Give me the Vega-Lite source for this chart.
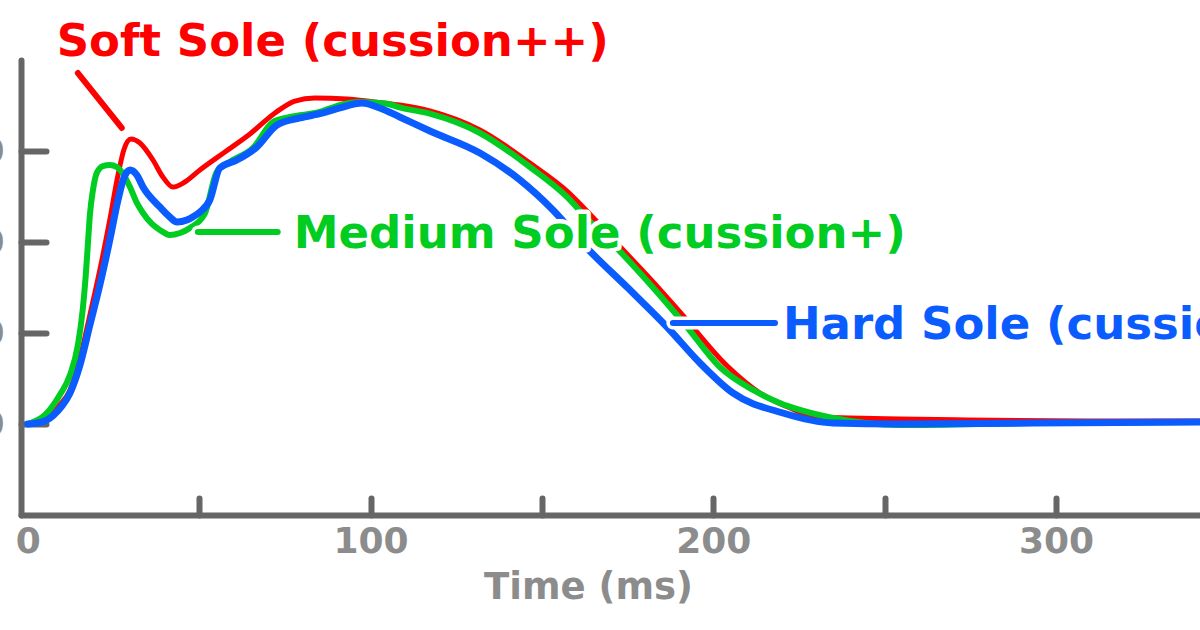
{
  "$schema": "https://vega.github.io/schema/vega-lite/v6.json",
  "width": 1179,
  "height": 455,
  "autosize": {"type": "none"},
  "padding": {"left": 21, "top": 60, "right": 0, "bottom": 115},
  "background": "white",
  "config": {"view": {"stroke": null}},
  "datasets": {
    "soft": [
      {"t": 0, "f": 0}, {"t": 5, "f": 44}, {"t": 9.3, "f": 209}, {"t": 12.3, "f": 374}, {"t": 15.2, "f": 725},
      {"t": 18.1, "f": 1198}, {"t": 21, "f": 1692}, {"t": 23.9, "f": 2242}, {"t": 26.3, "f": 2736}, {"t": 28, "f": 3011},
      {"t": 30.1, "f": 3132}, {"t": 32.7, "f": 3088}, {"t": 36.5, "f": 2901}, {"t": 39.4, "f": 2714}, {"t": 42.3, "f": 2604},
      {"t": 45.8, "f": 2659}, {"t": 50.2, "f": 2791}, {"t": 57.5, "f": 2989}, {"t": 64.8, "f": 3187}, {"t": 72.1, "f": 3418},
      {"t": 77.9, "f": 3549}, {"t": 83.7, "f": 3582}, {"t": 93.1, "f": 3571}, {"t": 98.9, "f": 3549}, {"t": 108.5, "f": 3505},
      {"t": 117.3, "f": 3440}, {"t": 131.9, "f": 3231}, {"t": 146.5, "f": 2868}, {"t": 157.3, "f": 2560}, {"t": 164.9, "f": 2270},
      {"t": 171.3, "f": 2010}, {"t": 181.5, "f": 1600}, {"t": 190.3, "f": 1230}, {"t": 204, "f": 640}, {"t": 213.6, "f": 341},
      {"t": 222.4, "f": 176}, {"t": 230.2, "f": 77}, {"t": 239.9, "f": 66}, {"t": 254.5, "f": 55}, {"t": 274, "f": 44},
      {"t": 312.8, "f": 33}, {"t": 342, "f": 33}
    ],
    "medium": [
      {"t": 0, "f": 0}, {"t": 5, "f": 99}, {"t": 9.3, "f": 319}, {"t": 12.3, "f": 538}, {"t": 14.6, "f": 868},
      {"t": 16, "f": 1253}, {"t": 16.9, "f": 1637}, {"t": 17.5, "f": 1967}, {"t": 18.1, "f": 2297}, {"t": 19, "f": 2571},
      {"t": 20.1, "f": 2758}, {"t": 21.9, "f": 2835}, {"t": 23.9, "f": 2846}, {"t": 26, "f": 2824}, {"t": 27.4, "f": 2769},
      {"t": 29.8, "f": 2604}, {"t": 31.8, "f": 2429}, {"t": 33.6, "f": 2319}, {"t": 36.2, "f": 2198}, {"t": 38.5, "f": 2132},
      {"t": 41.4, "f": 2077}, {"t": 44.4, "f": 2099}, {"t": 47.3, "f": 2154}, {"t": 51.6, "f": 2308}, {"t": 55.1, "f": 2769},
      {"t": 58.9, "f": 2879}, {"t": 65.7, "f": 3033}, {"t": 71.5, "f": 3319}, {"t": 76.5, "f": 3374}, {"t": 85.2, "f": 3429},
      {"t": 91, "f": 3505}, {"t": 96.9, "f": 3538}, {"t": 104.8, "f": 3520}, {"t": 108.5, "f": 3480}, {"t": 117.3, "f": 3410},
      {"t": 131.9, "f": 3198}, {"t": 146.5, "f": 2824}, {"t": 157.3, "f": 2495}, {"t": 163.1, "f": 2259}, {"t": 171.9, "f": 1930},
      {"t": 182.4, "f": 1500}, {"t": 192.3, "f": 1066}, {"t": 201.9, "f": 626}, {"t": 211.6, "f": 374}, {"t": 219.4, "f": 231},
      {"t": 225.3, "f": 154}, {"t": 234.9, "f": 66}, {"t": 254.5, "f": -11}, {"t": 293.3, "f": 11}, {"t": 342, "f": 22}
    ],
    "hard": [
      {"t": 0, "f": 0}, {"t": 4, "f": 20}, {"t": 7.3, "f": 90}, {"t": 10, "f": 200}, {"t": 12.3, "f": 341}, {"t": 15.2, "f": 648},
      {"t": 18.1, "f": 1088}, {"t": 21, "f": 1527}, {"t": 23.9, "f": 2022}, {"t": 26.3, "f": 2462}, {"t": 28, "f": 2703},
      {"t": 29.8, "f": 2791}, {"t": 31.8, "f": 2736}, {"t": 33.6, "f": 2604}, {"t": 38.5, "f": 2385}, {"t": 41.4, "f": 2275},
      {"t": 43.5, "f": 2220}, {"t": 46.4, "f": 2242}, {"t": 48.1, "f": 2275}, {"t": 50.2, "f": 2330}, {"t": 53.1, "f": 2462},
      {"t": 56, "f": 2813}, {"t": 61, "f": 2901}, {"t": 66.8, "f": 3044}, {"t": 72.7, "f": 3286}, {"t": 79.4, "f": 3363},
      {"t": 86.1, "f": 3418}, {"t": 91, "f": 3473}, {"t": 97.5, "f": 3527}, {"t": 102.7, "f": 3473}, {"t": 108.5, "f": 3374},
      {"t": 117.3, "f": 3220}, {"t": 131.9, "f": 2978}, {"t": 143.6, "f": 2681}, {"t": 153.2, "f": 2352}, {"t": 163.1, "f": 1934},
      {"t": 174.8, "f": 1505}, {"t": 186.5, "f": 1066}, {"t": 196.1, "f": 670}, {"t": 205.7, "f": 341}, {"t": 220.3, "f": 121},
      {"t": 234.9, "f": 11}, {"t": 254.5, "f": 0}, {"t": 293.3, "f": 11}, {"t": 342, "f": 22}
    ],
    "notes": [
      {"series": "Soft", "label": "Soft Sole (cussion++)", "tx": 8.4, "ty": 4040, "lx": 14.6, "ly": 3857, "lx2": 27.4, "ly2": 3253},
      {"series": "Medium", "label": "Medium Sole (cussion+)", "tx": 77.6, "ty": 1934, "lx": 49.6, "ly": 2110, "lx2": 72.9, "ly2": 2110},
      {"series": "Hard", "label": "Hard Sole (cussion)", "tx": 220.3, "ty": 934, "lx": 188.2, "ly": 1110, "lx2": 218.0, "ly2": 1110}
    ]
  },
  "layer": [
    {
      "data": {"name": "soft"},
      "mark": {"type": "line", "interpolate": "monotone", "color": "#ff0000", "strokeWidth": 5, "strokeCap": "round"},
      "encoding": {
        "x": {
          "field": "t", "type": "quantitative",
          "scale": {"domain": [-2, 342], "nice": false, "zero": false},
          "axis": {
            "values": [0, 50, 100, 150, 200, 250, 300],
            "format": "d",
            "labelExpr": "datum.value % 100 == 0 ? datum.label : ''",
            "grid": false,
            "domainColor": "#666666", "domainWidth": 6, "domainCap": "round",
            "tickColor": "#666666", "tickWidth": 6, "tickCap": "round", "tickSize": -17,
            "tickOpacity": {"condition": {"test": "datum.value == 0", "value": 0}, "value": 1},
            "labelFont": "DejaVu Sans", "labelFontWeight": "bold", "labelFontSize": 36, "labelColor": "#8c8c8c",
            "labelPadding": 26, "labelFlush": false, "labelOverlap": false,
            "title": "Time (ms)", "titleFont": "DejaVu Sans", "titleFontWeight": "bold", "titleFontSize": 37,
            "titleColor": "#8c8c8c", "titleX": 567, "titleY": 83, "titleBaseline": "alphabetic", "titleAnchor": "middle"
          }
        },
        "y": {
          "field": "f", "type": "quantitative",
          "scale": {"domain": [-1000, 4000], "nice": false, "zero": false},
          "axis": {
            "values": [0, 1000, 2000, 3000],
            "format": "d",
            "grid": false,
            "domainColor": "#666666", "domainWidth": 6, "domainCap": "round",
            "tickColor": "#666666", "tickWidth": 6, "tickCap": "round", "tickSize": -25,
            "labelFont": "DejaVu Sans", "labelFontWeight": "bold", "labelFontSize": 36, "labelColor": "#8c8c8c",
            "labelPadding": 42, "labelFlush": false, "labelOverlap": false,
            "title": null
          }
        }
      }
    },
    {
      "data": {"name": "medium"},
      "mark": {"type": "line", "interpolate": "monotone", "color": "#00cc22", "strokeWidth": 6, "strokeCap": "round"},
      "encoding": {"x": {"field": "t", "type": "quantitative"}, "y": {"field": "f", "type": "quantitative"}}
    },
    {
      "data": {"name": "hard"},
      "mark": {"type": "line", "interpolate": "monotone", "color": "#0a5cff", "strokeWidth": 7, "strokeCap": "round"},
      "encoding": {"x": {"field": "t", "type": "quantitative"}, "y": {"field": "f", "type": "quantitative"}}
    },
    {
      "data": {"name": "notes"},
      "mark": {"type": "rule", "color": "white", "strokeWidth": 13, "strokeCap": "round"},
      "encoding": {
        "x": {"field": "lx", "type": "quantitative"}, "y": {"field": "ly", "type": "quantitative"},
        "x2": {"field": "lx2"}, "y2": {"field": "ly2"}
      }
    },
    {
      "data": {"name": "notes"},
      "mark": {"type": "rule", "strokeWidth": 6, "strokeCap": "round"},
      "encoding": {
        "x": {"field": "lx", "type": "quantitative"}, "y": {"field": "ly", "type": "quantitative"},
        "x2": {"field": "lx2"}, "y2": {"field": "ly2"},
        "color": {"field": "series", "type": "nominal", "scale": {"domain": ["Soft", "Medium", "Hard"], "range": ["#ff0000", "#00cc22", "#0a5cff"]}, "legend": null}
      }
    },
    {
      "data": {"name": "notes"},
      "mark": {"type": "text", "align": "left", "baseline": "alphabetic", "font": "DejaVu Sans", "fontWeight": "bold", "fontSize": 45, "fill": "white", "stroke": "white", "strokeWidth": 9, "strokeJoin": "round"},
      "encoding": {
        "x": {"field": "tx", "type": "quantitative"}, "y": {"field": "ty", "type": "quantitative"},
        "text": {"field": "label"}
      }
    },
    {
      "data": {"name": "notes"},
      "mark": {"type": "text", "align": "left", "baseline": "alphabetic", "font": "DejaVu Sans", "fontWeight": "bold", "fontSize": 45},
      "encoding": {
        "x": {"field": "tx", "type": "quantitative"}, "y": {"field": "ty", "type": "quantitative"},
        "text": {"field": "label"},
        "color": {"field": "series", "type": "nominal", "legend": null}
      }
    }
  ]
}
